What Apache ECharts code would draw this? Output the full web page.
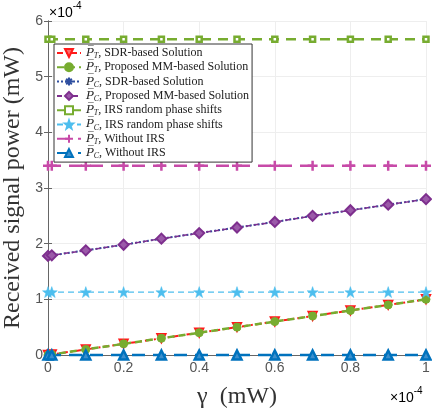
<!DOCTYPE html>
<html>
<head>
<meta charset="utf-8">
<script src="https://cdn.jsdelivr.net/npm/echarts@6/dist/echarts.min.js"></script>
<style>
  html, body { margin: 0; padding: 0; background: #fff; }
  #main { width: 432px; height: 409px; }
</style>
</head>
<body>
<div id="main"></div>
<script>
// gamma values, in units of 1e-4 mW
var gammaVals = [0, 0.01, 0.1, 0.2, 0.3, 0.4, 0.5, 0.6, 0.7, 0.8, 0.9, 1.0];
// received power, units of 1e-4 mW
var ptSdr = [0, 0.01, 0.1, 0.2, 0.3, 0.4, 0.5, 0.6, 0.7, 0.8, 0.9, 1.0];
var ptMm = [0, 0.01, 0.1, 0.2, 0.3, 0.4, 0.5, 0.6, 0.7, 0.8, 0.9, 1.0];
var pcSdr = [1.78, 1.79, 1.88, 1.98, 2.09, 2.19, 2.29, 2.39, 2.50, 2.60, 2.70, 2.80];
var pcMm = [1.78, 1.79, 1.88, 1.98, 2.09, 2.19, 2.29, 2.39, 2.50, 2.60, 2.70, 2.80];
var ptRand = [5.67, 5.67, 5.67, 5.67, 5.67, 5.67, 5.67, 5.67, 5.67, 5.67, 5.67, 5.67];
var pcRand = [1.13, 1.13, 1.13, 1.13, 1.13, 1.13, 1.13, 1.13, 1.13, 1.13, 1.13, 1.13];
var ptNoIrs = [3.4, 3.4, 3.4, 3.4, 3.4, 3.4, 3.4, 3.4, 3.4, 3.4, 3.4, 3.4];
var pcNoIrs = [0, 0, 0, 0, 0, 0, 0, 0, 0, 0, 0, 0];
var xTicks = ['0', '0.2', '0.4', '0.6', '0.8', '1'];

var legendText = {
  ptSdr: ['T', 'SDR-based Solution'],
  ptMm: ['T', 'Proposed MM-based Solution'],
  pcSdr: ['C', 'SDR-based Solution'],
  pcMm: ['C', 'Proposed MM-based Solution'],
  ptRand: ['T', 'IRS random phase shifts'],
  pcRand: ['C', 'IRS random phase shifts'],
  ptNoIrs: ['T', 'Without IRS'],
  pcNoIrs: ['C', 'Without IRS']
};

function pairs(xs, ys) {
  return xs.map(function (x, i) { return [x, ys[i]]; });
}

var starPath = 'path://M0,-10L2.35,-3.24L9.51,-3.09L3.8,1.24L5.88,8.09L0,4L-5.88,8.09L-3.8,1.24L-9.51,-3.09L-2.35,-3.24Z';
var asterPath = 'path://M0,-1L0,1M-1,0L1,0M-0.7,-0.7L0.7,0.7M-0.7,0.7L0.7,-0.7';
var plusPath = 'path://M0,-1L0,1M-1,0L1,0';

function mk(name, ys, color, lineType, width, symbol, size, fill, bw, rotate) {
  return {
    name: name,
    type: 'line',
    data: pairs(gammaVals, ys),
    clip: false,
    symbol: symbol,
    symbolSize: size,
    symbolRotate: rotate || 0,
    showAllSymbol: true,
    lineStyle: { color: color, type: lineType, width: width },
    itemStyle: { color: fill, borderColor: color, borderWidth: bw },
    emphasis: { disabled: true },
    animation: false
  };
}

var sciRich = {
  a: { fontFamily: 'Liberation Sans', fontSize: 14, color: '#555', verticalAlign: 'bottom', padding: [5, 0, 0, 0] },
  b: { fontFamily: 'Liberation Sans', fontSize: 10, color: '#555', verticalAlign: 'top' }
};

var chart = echarts.init(document.getElementById('main'));
chart.setOption({
  backgroundColor: '#fff',
  animation: false,
  grid: { left: 48, right: 6, top: 21, bottom: 54, outerBoundsMode: 'none' },
  legend: {
    orient: 'vertical',
    left: 54,
    top: 44,
    itemWidth: 24,
    itemHeight: 10,
    itemGap: 0.3,
    padding: [2, 3, 2, 2],
    backgroundColor: '#fff',
    borderColor: '#333',
    borderWidth: 1,
    borderRadius: 0,
    selectedMode: false,
    formatter: function (n) {
      var t = legendText[n];
      return '{p|P\u0305}{s|' + t[0] + '}{n|, ' + t[1] + '}';
    },
    textStyle: {
      fontFamily: 'Liberation Serif',
      fontSize: 12,
      color: '#222',
      lineHeight: 14,
      rich: {
        p: { fontFamily: 'DejaVu Serif', fontStyle: 'italic', fontSize: 11.5, color: '#222', lineHeight: 14 },
        s: { fontFamily: 'Liberation Serif', fontStyle: 'italic', fontSize: 8, color: '#222', verticalAlign: 'bottom', lineHeight: 10 },
        n: { fontFamily: 'Liberation Serif', fontSize: 12, color: '#222', lineHeight: 14 }
      }
    }
  },
  xAxis: [{
    type: 'value', min: 0, max: 1, interval: 0.2,
    name: 'γ  (mW)', nameLocation: 'middle', nameGap: 30,
    nameTextStyle: { fontFamily: 'Liberation Serif', fontSize: 24, color: '#333' },
    axisLine: { show: true, lineStyle: { color: '#666' } },
    axisTick: { inside: true, length: 4, lineStyle: { color: '#666' } },
    axisLabel: {
      fontFamily: 'Liberation Sans', fontSize: 14, color: '#555', margin: 6,
      formatter: function (v) { return xTicks[Math.round(v / 0.2)]; }
    },
    splitLine: { show: true, lineStyle: { color: '#eeeeee' } }
  }, {
    type: 'value', min: 0, max: 1, interval: 0.2, position: 'top',
    axisLine: { show: true, lineStyle: { color: '#666' } },
    axisTick: { inside: true, length: 4, lineStyle: { color: '#666' } },
    axisLabel: { show: false }, splitLine: { show: false }
  }],
  yAxis: [{
    type: 'value', min: 0, max: 6, interval: 1,
    name: 'Received signal power (mW)', nameLocation: 'middle', nameGap: 9,
    nameTextStyle: { fontFamily: 'Liberation Serif', fontSize: 24, color: '#333' },
    axisLine: { show: true, lineStyle: { color: '#666' } },
    axisTick: { inside: true, length: 4, lineStyle: { color: '#666' } },
    axisLabel: { fontFamily: 'Liberation Sans', fontSize: 14, color: '#555', margin: 5 },
    splitLine: { show: true, lineStyle: { color: '#eeeeee' } }
  }, {
    type: 'value', min: 0, max: 6, interval: 1, position: 'right',
    axisLine: { show: true, lineStyle: { color: '#666' } },
    axisTick: { inside: true, length: 4, lineStyle: { color: '#666' } },
    axisLabel: { show: false }, splitLine: { show: false }
  }],
  graphic: [{
    type: 'text', left: 49, top: 1,
    style: { text: '{a|×10}{b|-4}', rich: sciRich }
  }, {
    type: 'text', left: 390, top: 386,
    style: { text: '{a|×10}{b|-4}', rich: sciRich }
  }],
  series: [
    mk('ptSdr', ptSdr, '#ff1a1a', [6, 3, 2, 3], 2, 'triangle', 9, '#ff6a6a', 1.5, 180),
    mk('ptMm', ptMm, '#77ac30', [7, 4], 2.5, 'circle', 8, '#77ac30', 1),
    mk('pcSdr', pcSdr, '#2f4fa0', [2, 2], 2, asterPath, 7, '#2f4fa0', 2),
    mk('pcMm', pcMm, '#7e2f8e', [5, 3], 1.5, 'diamond', 10, '#9b5aa9', 2),
    mk('ptRand', ptRand, '#77ac30', [10, 7], 2.5, 'rect', 5, '#fff', 2.5),
    mk('pcRand', pcRand, '#4dbeee', [6, 4], 1.2, starPath, 11, '#4dbeee', 0.5),
    mk('ptNoIrs', ptNoIrs, '#c74aa8', [13, 8], 2.5, plusPath, 10, '#c74aa8', 2.5),
    mk('pcNoIrs', pcNoIrs, '#0072bd', [13, 8], 2.5, 'triangle', 9, '#3d8fcc', 2.5)
  ]
});
</script>
</body>
</html>
